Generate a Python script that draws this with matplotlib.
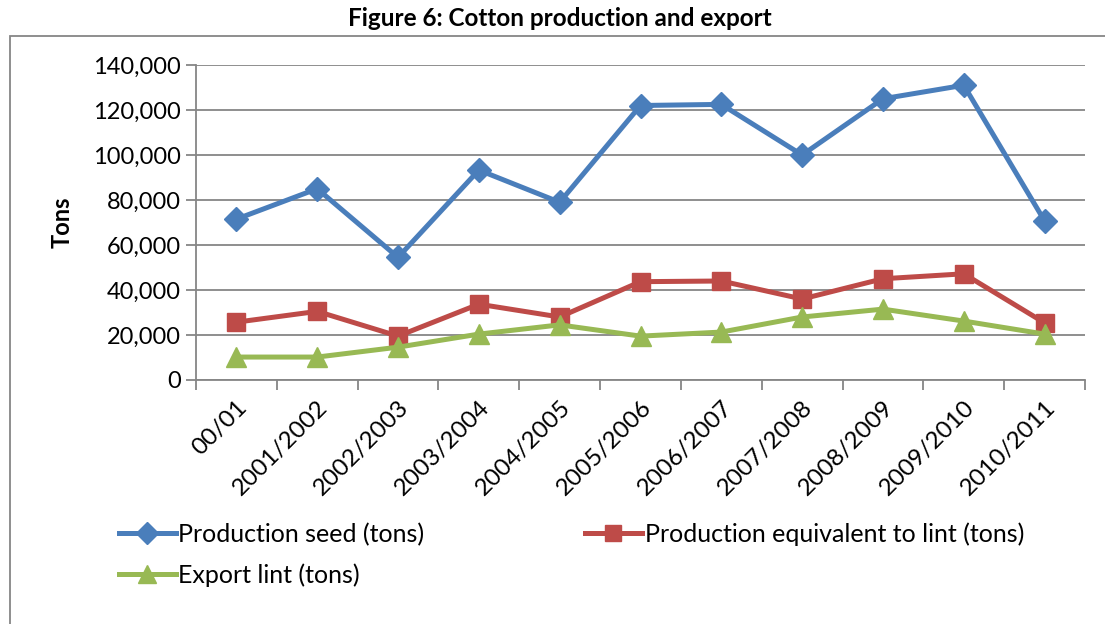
import matplotlib
matplotlib.use("Agg")
import matplotlib.pyplot as plt
from matplotlib.ticker import FuncFormatter, MultipleLocator
from matplotlib.patches import Rectangle

categories = ["00/01", "2001/2002", "2002/2003", "2003/2004", "2004/2005", "2005/2006",
              "2006/2007", "2007/2008", "2008/2009", "2009/2010", "2010/2011"]
production_seed = [71500, 85000, 54500, 93300, 79000, 122000, 122500, 100000, 125000, 131000, 70700]
production_lint = [25700, 30500, 19500, 33700, 28000, 43700, 44000, 36000, 45000, 47200, 25400]
export_lint = [10200, 10200, 14600, 20400, 24500, 19500, 21300, 28000, 31500, 26200, 20400]

plt.rcParams['font.family'] = ['Lato', 'DejaVu Sans']

fig = plt.figure(figsize=(11.05, 6.24), dpi=100)
W, H = 1105, 624
# outer chart frame (cropped)
fig.patches.append(Rectangle((10 / W, -0.1), 1.2, (H - 36) / H + 0.1, transform=fig.transFigure,
                             fill=False, edgecolor="#868686", linewidth=1.3))

ax = fig.add_axes([196 / W, 1 - 380 / H, (1085 - 196) / W, (380 - 65) / H])
x = list(range(len(categories)))

l1, = ax.plot(x, production_seed, color="#4A7EBB", linewidth=3.6, marker="D", markersize=12,
              label="Production seed (tons)", zorder=4)
l2, = ax.plot(x, production_lint, color="#BE4B48", linewidth=3.6, marker="s", markersize=13,
              label="Production equivalent to lint (tons)", zorder=3)
l3, = ax.plot(x, export_lint, color="#98B954", linewidth=3.6, marker="^", markersize=14,
              label="Export lint (tons)", zorder=3)

ax.set_xlim(-0.5, len(categories) - 0.5)
ax.set_ylim(0, 140000)
ax.yaxis.set_major_locator(MultipleLocator(20000))
ax.yaxis.set_major_formatter(FuncFormatter(lambda v, p: f"{int(v):,}"))
ax.grid(axis="y", color="#868686", linewidth=1.3)
ax.set_axisbelow(True)
for s in ["top", "right"]:
    ax.spines[s].set_visible(False)
for s in ["left", "bottom"]:
    ax.spines[s].set_color("#868686")
    ax.spines[s].set_linewidth(1.3)

ax.set_xticks(x)
ax.set_xticklabels(categories, rotation=45, ha="right", rotation_mode="anchor", fontsize=17.5)
ax.tick_params(axis="x", length=0, pad=12)
ax.set_xticks([i - 0.5 for i in range(len(categories) + 1)], minor=True)
ax.tick_params(axis="x", which="minor", length=7, color="#868686", width=1.3)
ax.tick_params(axis="y", labelsize=17, length=7, color="#868686", width=1.3, pad=4)

ax.set_ylabel("Tons", fontsize=17, fontweight="bold", labelpad=14)

fig.text(560 / W, 1 - 18 / H, "Figure 6: Cotton production and export", ha="center", va="center",
         fontsize=17.5, fontweight="bold")

leg = fig.legend([l1, l3, l2], [l1.get_label(), l3.get_label(), l2.get_label()],
                 loc="upper left", bbox_to_anchor=(96 / W, 1 - 500 / H), ncol=2, frameon=False,
                 fontsize=18, handlelength=2.3, handletextpad=0.1, columnspacing=6.4,
                 labelspacing=0.7, markerscale=0.9)

fig.savefig("out.png", dpi=100)
